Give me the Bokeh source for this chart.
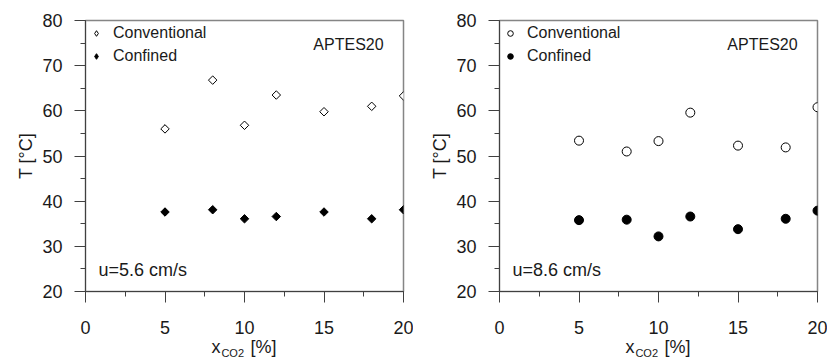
import numpy as np
from bokeh.plotting import figure
from bokeh.models import (Range1d, SingleIntervalTicker, FixedTicker, LinearAxis, Label, Legend,
                          LegendItem, ColumnDataSource, CDSView, IndexFilter)
from bokeh.layouts import row
from bokeh.embed import file_html
from bokeh.resources import INLINE

# ---- data ----
x_co2 = [5, 8, 10, 12, 15, 18, 20]
conv_u56 = [56.0, 66.8, 56.8, 63.5, 59.8, 61.0, 63.3]
conf_u56 = [37.6, 38.1, 36.1, 36.6, 37.6, 36.1, 38.1]
conv_u86 = [53.4, 51.0, 53.3, 59.6, 52.3, 51.9, 60.8]
conf_u86 = [35.8, 35.9, 32.2, 36.6, 33.8, 36.1, 37.9]
series_names = ["Conventional", "Confined"]
sample_name = "APTES20"
speed_labels = ["u=5.6 cm/s", "u=8.6 cm/s"]
x_label_parts = ["x", "CO2", "[%]"]
y_label = "T [°C]"
x_ticks = [0, 5, 10, 15, 20]
y_ticks = [20, 30, 40, 50, 60, 70, 80]

FONT = "Liberation Sans"
AX = "#404040"
FRAME = "#858585"
TXT = "#1a1a1a"


def label_axis(ticks, texts, size, standoff):
    ax = LinearAxis(ticker=FixedTicker(ticks=ticks, minor_ticks=[]),
                    major_label_overrides={t: s for t, s in zip(ticks, texts)},
                    axis_line_color=None, major_tick_line_color=None, minor_tick_line_color=None,
                    major_tick_in=0, major_tick_out=0, minor_tick_in=0, minor_tick_out=0,
                    major_label_standoff=standoff, major_label_text_font=FONT,
                    major_label_text_font_size=size, major_label_text_color=TXT)
    return ax


def panel(conv, conf, kind, speed, width, left):
    p = figure(width=width, height=361, output_backend="svg", toolbar_location=None,
               x_range=Range1d(x_ticks[0], x_ticks[-1]), y_range=Range1d(y_ticks[0], y_ticks[-1]),
               min_border_left=left, min_border_right=10, min_border_top=20, min_border_bottom=69)
    p.grid.visible = False
    p.outline_line_color = FRAME
    p.outline_line_width = 1.5
    p.background_fill_color = "white"
    p.border_fill_color = "white"

    p.xaxis.ticker = SingleIntervalTicker(interval=5, num_minor_ticks=2)
    p.yaxis.ticker = SingleIntervalTicker(interval=10, num_minor_ticks=2)
    for ax in (p.xaxis[0], p.yaxis[0]):
        ax.axis_line_color = AX
        ax.major_tick_line_color = AX
        ax.minor_tick_line_color = AX
        ax.major_tick_in = 0
        ax.major_tick_out = 11
        ax.minor_tick_in = 0
        ax.minor_tick_out = 5
        ax.major_label_text_font = FONT
        ax.major_label_text_font_size = "18px"
        ax.major_label_text_color = TXT
        ax.major_label_standoff = 12
    p.xaxis.major_label_standoff = 18
    p.yaxis.axis_label = y_label
    p.yaxis.axis_label_text_font = FONT
    p.yaxis.axis_label_text_font_size = "18px"
    p.yaxis.axis_label_text_font_style = "normal"
    p.yaxis.axis_label_text_color = TXT
    p.yaxis.axis_label_standoff = 3

    # x-axis title with subscript, built from tick labels of two label-only axes
    p.add_layout(label_axis([8.21, 11.19], [x_label_parts[0], x_label_parts[2]], "18px", 0), "below")
    p.add_layout(label_axis([9.26], [x_label_parts[1]], "11px", -13), "below")

    src = ColumnDataSource(dict(x=x_co2, conv=conv, conf=conf))
    first = CDSView(filter=IndexFilter([0]))
    if kind == "diamond":
        kw = dict(marker="square", angle=np.pi / 4)
        lkw = dict(marker="diamond")
        sz, lsz1, lsz2 = 6, 8, 8
    else:
        kw = dict(marker="circle")
        lkw = kw
        sz, lsz1, lsz2 = 9, 7, 8
    # legend-sized copies (hidden beneath the real markers)
    l1 = p.scatter("x", "conv", source=src, view=first, size=lsz1,
                   fill_color="white", line_color="black", line_width=1, **lkw)
    l2 = p.scatter("x", "conf", source=src, view=first, size=lsz2,
                   fill_color="black", line_color="black", line_width=1, **lkw)
    p.scatter("x", "conv", source=src, size=sz, fill_color="white", line_color="black", line_width=1, **kw)
    p.scatter("x", "conf", source=src, size=sz, fill_color="black", line_color="black", line_width=1, **kw)

    legend = Legend(items=[LegendItem(label=series_names[0], renderers=[l1]),
                           LegendItem(label=series_names[1], renderers=[l2])],
                    location="top_left", margin=4, padding=0, spacing=5,
                    glyph_width=14, glyph_height=18, label_height=18, label_standoff=10,
                    border_line_color=None, background_fill_alpha=0,
                    label_text_font=FONT, label_text_font_size="16px", label_text_color=TXT)
    p.add_layout(legend)

    p.add_layout(Label(x=18.75, y=74.6, text=sample_name, text_align="right", text_baseline="middle",
                       text_font=FONT, text_font_size="16px", text_color=TXT))
    p.add_layout(Label(x=0.82, y=24.7, text=speed, text_align="left", text_baseline="middle",
                       text_font=FONT, text_font_size="18px", text_color=TXT))
    return p


p1 = panel(conv_u56, conf_u56, "diamond", speed_labels[0], 413, 85)
p2 = panel(conv_u86, conf_u86, "circle", speed_labels[1], 414, 86)
layout = row(p1, p2)

open("out.html", "w").write(file_html(layout, INLINE))
